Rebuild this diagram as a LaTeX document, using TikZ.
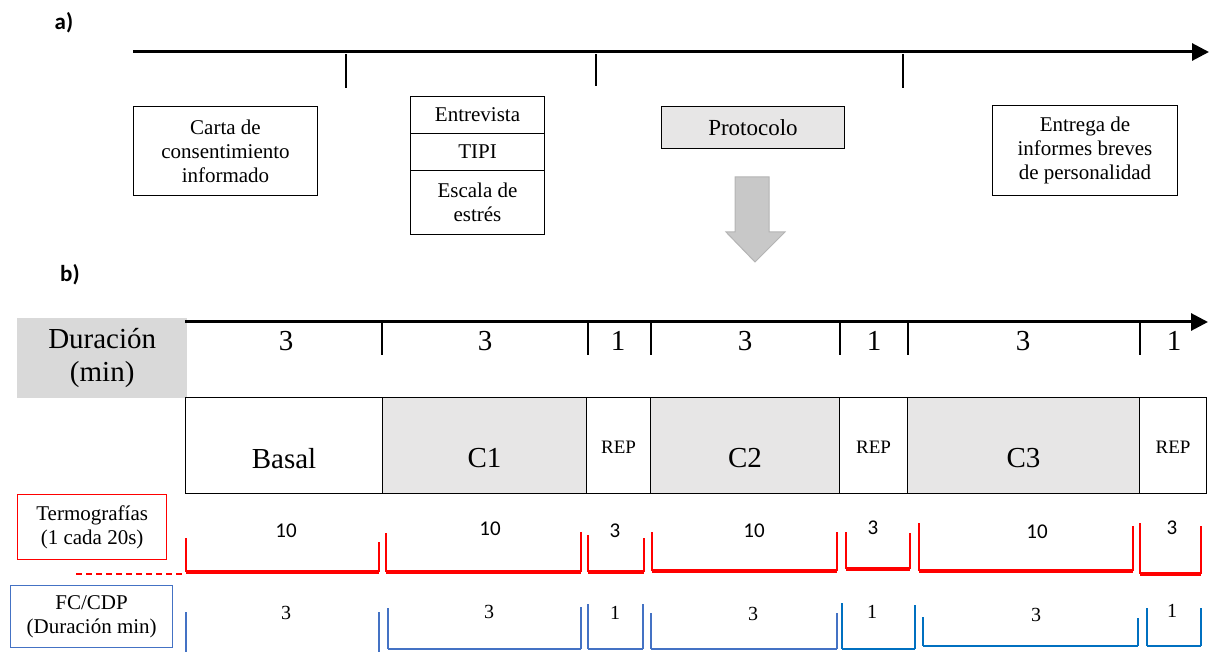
\documentclass[tikz,border=0pt]{standalone}
\usepackage{fontspec}
\setmainfont{Liberation Serif}
\newfontfamily\calib{Carlito}
\usetikzlibrary{arrows.meta}
\definecolor{boxgray}{HTML}{E7E6E6}
\definecolor{headgray}{HTML}{D9D9D9}
\definecolor{arrgray}{HTML}{C8C8C8}
\definecolor{arredge}{HTML}{B4B4B4}
\definecolor{tred}{HTML}{FF0000}
\definecolor{fcblue}{HTML}{4472C4}
\definecolor{fcdark}{HTML}{0070C0}
\tikzset{
  txt/.style={font=\fontsize{21}{24}\selectfont, align=center},
  big/.style={font=\fontsize{29}{33}\selectfont, align=center},
  panel/.style={font=\calib\bfseries\fontsize{23}{25}\selectfont},
  stagebox/.style={draw, line width=1pt, anchor=north west, inner sep=0pt},
  axisline/.style={line width=3pt, -{Triangle[length=17pt,width=17pt]}},
  tick/.style={line width=1.3pt},
  redv/.style={tred, line width=1.5pt},
  redh/.style={tred, line width=4pt},
  rednum/.style={font=\calib\fontsize{21}{23}\selectfont},
  bluenum/.style={font=\fontsize{20}{22}\selectfont},
}
\newcommand{\stagerect}[5]{% name, x0, y0, x1, y1
  \node[stagebox, minimum width={#4-#2}, minimum height={#5-#3}] (#1) at (#2,#3) {};}
\begin{document}
\begin{tikzpicture}[x=1pt,y=-1pt]
\useasboundingbox (0,0) rectangle (1211,652);

% ---------- a) study sequence ----------
\node[panel] (la) at (64,23) {a)};
\coordinate (ta0) at (133,52);
\coordinate (ta1) at (1209,52);
\draw[axisline] (ta0) -- (ta1);
\draw[tick] (346,54) -- (346,88);
\draw[tick] (596,54) -- (596,86);
\draw[tick] (903,54) -- (903,88);

\stagerect{carta}{133}{106}{317}{195}
\node[txt] at (carta.center) {Carta de\\consentimiento\\informado};

\stagerect{entre}{410}{96}{544}{133}
\node[txt] at (entre.center) {Entrevista};
\stagerect{tipi}{410}{133}{544}{170}
\node[txt] at (tipi.center) {TIPI};
\stagerect{escala}{410}{170}{544}{234}
\node[txt] at (escala.center) {Escala de\\estrés};

\node[stagebox, fill=boxgray, minimum width=183, minimum height=42] (proto) at (661,106) {};
\node[font=\fontsize{23}{26}\selectfont] at (proto.center) {Protocolo};

\stagerect{entrega}{992}{105}{1177}{195}
\node[txt] at (entrega.center) {Entrega de\\informes breves\\de personalidad};

% down arrow towards the protocol detail
\filldraw[fill=arrgray, draw=arredge, line width=1pt]
  (735,177) -- (769,177) -- (769,232) -- (785,232) -- (755,262)
  -- (726,232) -- (735,232) -- cycle;

% ---------- b) protocol timeline ----------
\node[panel] (lb) at (70,275) {b)};
\node[fill=headgray, anchor=north west, minimum width=170, minimum height=80, inner sep=0pt] (dur) at (17,318) {};
\node[big] at (dur.center) {Duración\\(min)};

\coordinate (tb0) at (185,322);
\coordinate (tb1) at (1208,322);
\draw[axisline] (tb0) -- (tb1);
\foreach \x in {382,588,651,840,908,1140}
  \draw[tick] (\x,322) -- (\x,355);
\foreach \x/\n in {286/3,485/3,618/1,745/3,874/1,1023/3,1174/1}
  \node[big] at (\x,341) {\n};

% stage boxes
\stagerect{basal}{185}{397}{382}{493}
\node[stagebox, fill=boxgray, minimum width=204, minimum height=96] (c1) at (382,397) {};
\stagerect{rep1}{586}{397}{650}{493}
\node[stagebox, fill=boxgray, minimum width=189, minimum height=96] (c2) at (650,397) {};
\stagerect{rep2}{839}{397}{907}{493}
\node[stagebox, fill=boxgray, minimum width=232, minimum height=96] (c3) at (907,397) {};
\stagerect{rep3}{1139}{397}{1206}{493}
\node[big] at ([yshift=-13]basal.center) {Basal};
\node[big] at ([yshift=-13]c1.center) {C1};
\node[big] at ([yshift=-13]c2.center) {C2};
\node[big] at ([yshift=-13]c3.center) {C3};
\foreach \r in {rep1,rep2,rep3}
  \node[font=\fontsize{19}{21}\selectfont] at ([yshift=-2]\r.center) {REP};

% thermography captures
\node[draw=tred, line width=1.3pt, anchor=north west, minimum width=149, minimum height=65, inner sep=0pt] (termo) at (17,494) {};
\node[txt] at (termo.center) {Termografías\\(1 cada 20s)};
\draw[tred, line width=1.5pt, dash pattern=on 6pt off 4pt] (76,574) -- (185,574);

% left x, left top, right x, right top, bottom, label x, label y, label
\foreach \lx/\lt/\rx/\rt/\b/\nx/\ny/\n in {
   186/538/379/542/572/286/531/10,
   386/533/581/532/572/490/529/10,
   588/535/644/538/572/615/531/3,
   652/532/837/532/571/754/531/10,
   846/532/910/533/569/873/528/3,
   919/523/1133/526/571/1037/532/10,
   1140/523/1201/526/574/1172/528/3}{
  \draw[redv] (\lx,\lt) -- (\lx,\b);
  \draw[redv] (\rx,\rt) -- (\rx,\b);
  \draw[redh] (\lx,\b) -- (\rx,\b);
  \node[rednum] at (\nx,\ny) {\n};
}

% heart rate / skin conductance recordings
\node[draw=fcblue, line width=1.3pt, anchor=north west, minimum width=162, minimum height=62, inner sep=0pt] (fc) at (10,585) {};
\node[txt] at (fc.center) {FC/CDP\\(Duración min)};

\draw[fcblue, line width=1.3pt] (186,612) -- (186,652);
\draw[fcblue, line width=1.3pt] (379,612) -- (379,652);
\node[bluenum] at (286,613) {3};

\foreach \lx/\lt/\rx/\rt/\b/\w/\c/\nx/\ny/\n in {
   388/608/581/607/649/1.3/fcblue/489/612/3,
   588/604/643/604/649/1.3/fcblue/615/613/1,
   651/613/837/613/649/2.5/fcblue/753/614/3,
   842/603/915/605/649/2.5/fcdark/872/612/1,
   923/617/1138/618/646/2.5/fcdark/1036/615/3,
   1147/608/1201/608/646/2.5/fcdark/1172/611/1}{
  \draw[\c, line width=1.3pt] (\lx,\lt) -- (\lx,\b);
  \draw[\c, line width=1.3pt] (\rx,\rt) -- (\rx,\b);
  \draw[\c, line width=\w pt] (\lx,\b) -- (\rx,\b);
  \node[bluenum] at (\nx,\ny) {\n};
}
\end{tikzpicture}
\end{document}
